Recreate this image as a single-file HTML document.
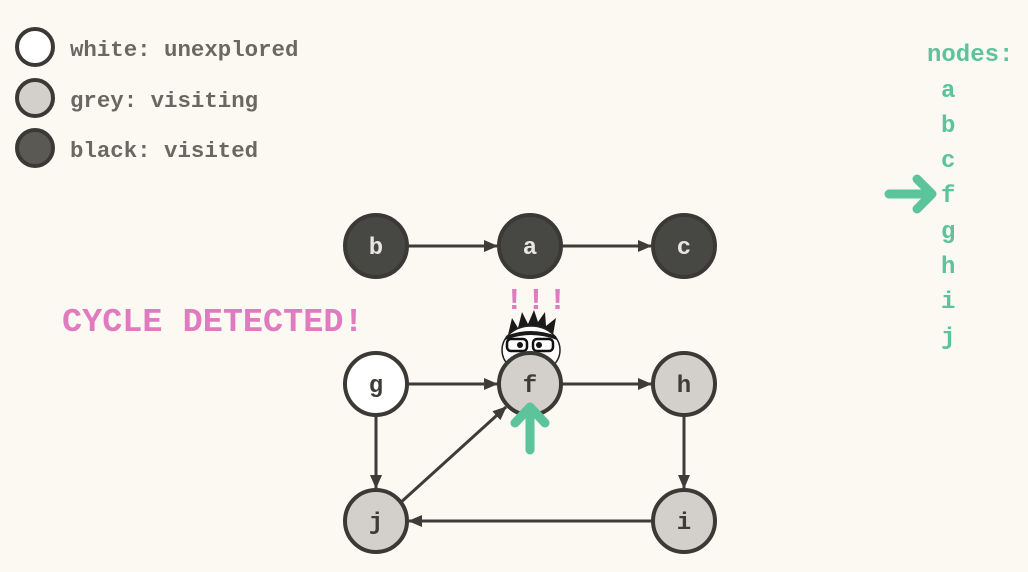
<!DOCTYPE html>
<html><head><style>
html,body{margin:0;padding:0;background:#fcf8f2;}
svg{display:block;}
text{font-family:"Liberation Mono",monospace;font-weight:bold;}
</style></head><body>
<svg width="1028" height="572" viewBox="0 0 1028 572" xmlns="http://www.w3.org/2000/svg">
<defs>
<marker id="ah" markerWidth="14" markerHeight="14" refX="13" refY="7" orient="auto" markerUnits="userSpaceOnUse">
<path d="M0,1 L14,7 L0,13 z" fill="#3d3c38"/>
</marker>
</defs>
<rect width="1028" height="572" fill="#fcf8f2"/>
<!-- legend -->
<g stroke="#3a3935" stroke-width="4">
<circle cx="35" cy="47" r="18" fill="#ffffff"/>
<circle cx="35" cy="98" r="18" fill="#d3d0cb"/>
<circle cx="35" cy="148" r="18" fill="#5a5954"/>
</g>
<g fill="#6b6862" font-size="22.4">
<text x="70" y="56">white: unexplored</text>
<text x="70" y="107">grey: visiting</text>
<text x="70" y="157">black: visited</text>
</g>
<!-- nodes list -->
<g fill="#5cc49a" font-size="24">
<text x="927" y="61">nodes:</text>
<text x="941" y="97">a</text>
<text x="941" y="132">b</text>
<text x="941" y="167">c</text>
<text x="941" y="202">f</text>
<text x="941" y="238">g</text>
<text x="941" y="273">h</text>
<text x="941" y="308">i</text>
<text x="941" y="344">j</text>
</g>
<g stroke="#5cc49a" stroke-width="9" stroke-linecap="round" stroke-linejoin="round" fill="none">
<path d="M889,194 H930"/><path d="M917,179 L932,194 L917,209"/>
</g>
<!-- cycle text -->
<text x="62" y="331" fill="#e07bbf" font-size="33.5">CYCLE DETECTED!</text>
<text x="505" y="309" fill="#e07bbf" font-size="31" letter-spacing="3">!!!</text>
<!-- edges -->
<g stroke="#3d3c38" stroke-width="3" fill="none">
<line x1="408" y1="246" x2="497" y2="246" marker-end="url(#ah)"/>
<line x1="562" y1="246" x2="651" y2="246" marker-end="url(#ah)"/>
<line x1="408" y1="384" x2="497" y2="384" marker-end="url(#ah)"/>
<line x1="562" y1="384" x2="651" y2="384" marker-end="url(#ah)"/>
<line x1="376" y1="416" x2="376" y2="488" marker-end="url(#ah)"/>
<line x1="684" y1="416" x2="684" y2="488" marker-end="url(#ah)"/>
<line x1="652" y1="521" x2="409" y2="521" marker-end="url(#ah)"/>
<line x1="399" y1="504" x2="506" y2="407" marker-end="url(#ah)"/>
</g>
<!-- character head -->
<g>
<path d="M508,335 L512,318 L518,328 L522,312 L528,324 L534,310 L538,322 L545,312 L546,326 L556,318 L553,335 Z" fill="#1a1a1a"/>
<ellipse cx="531" cy="350" rx="29" ry="24" fill="#fff" stroke="#222" stroke-width="1.5"/>
<path d="M505,340 Q531,330 557,340 L556,336 Q531,326 506,336 Z" fill="#1a1a1a"/>
<rect x="507" y="339" width="20" height="12" rx="4" fill="#fff" stroke="#111" stroke-width="2.5"/>
<rect x="533" y="339" width="20" height="12" rx="4" fill="#fff" stroke="#111" stroke-width="2.5"/>
<circle cx="520" cy="345" r="3" fill="#111"/><circle cx="539" cy="345" r="3" fill="#111"/>
</g>
<!-- nodes -->
<g stroke="#3a3935" stroke-width="4">
<circle cx="376" cy="246" r="31" fill="#474743"/>
<circle cx="530" cy="246" r="31" fill="#474743"/>
<circle cx="684" cy="246" r="31" fill="#474743"/>
<circle cx="376" cy="384" r="31" fill="#ffffff"/>
<circle cx="530" cy="384" r="31" fill="#d3d0cb"/>
<circle cx="684" cy="384" r="31" fill="#d3d0cb"/>
<circle cx="376" cy="521" r="31" fill="#d3d0cb"/>
<circle cx="684" cy="521" r="31" fill="#d3d0cb"/>
</g>
<g font-size="24" text-anchor="middle">
<text x="376" y="254" fill="#e8e6e2">b</text>
<text x="530" y="254" fill="#e8e6e2">a</text>
<text x="684" y="254" fill="#e8e6e2">c</text>
<text x="376" y="392" fill="#3d3c38">g</text>
<text x="530" y="392" fill="#3d3c38">f</text>
<text x="684" y="392" fill="#3d3c38">h</text>
<text x="376" y="529" fill="#3d3c38">j</text>
<text x="684" y="529" fill="#3d3c38">i</text>
</g>
<!-- green up arrow -->
<g stroke="#5cc49a" stroke-width="9" stroke-linecap="round" stroke-linejoin="round" fill="none">
<path d="M530,450 V410"/><path d="M515,423 L530,407 L545,423"/>
</g>
</svg>
</body></html>
